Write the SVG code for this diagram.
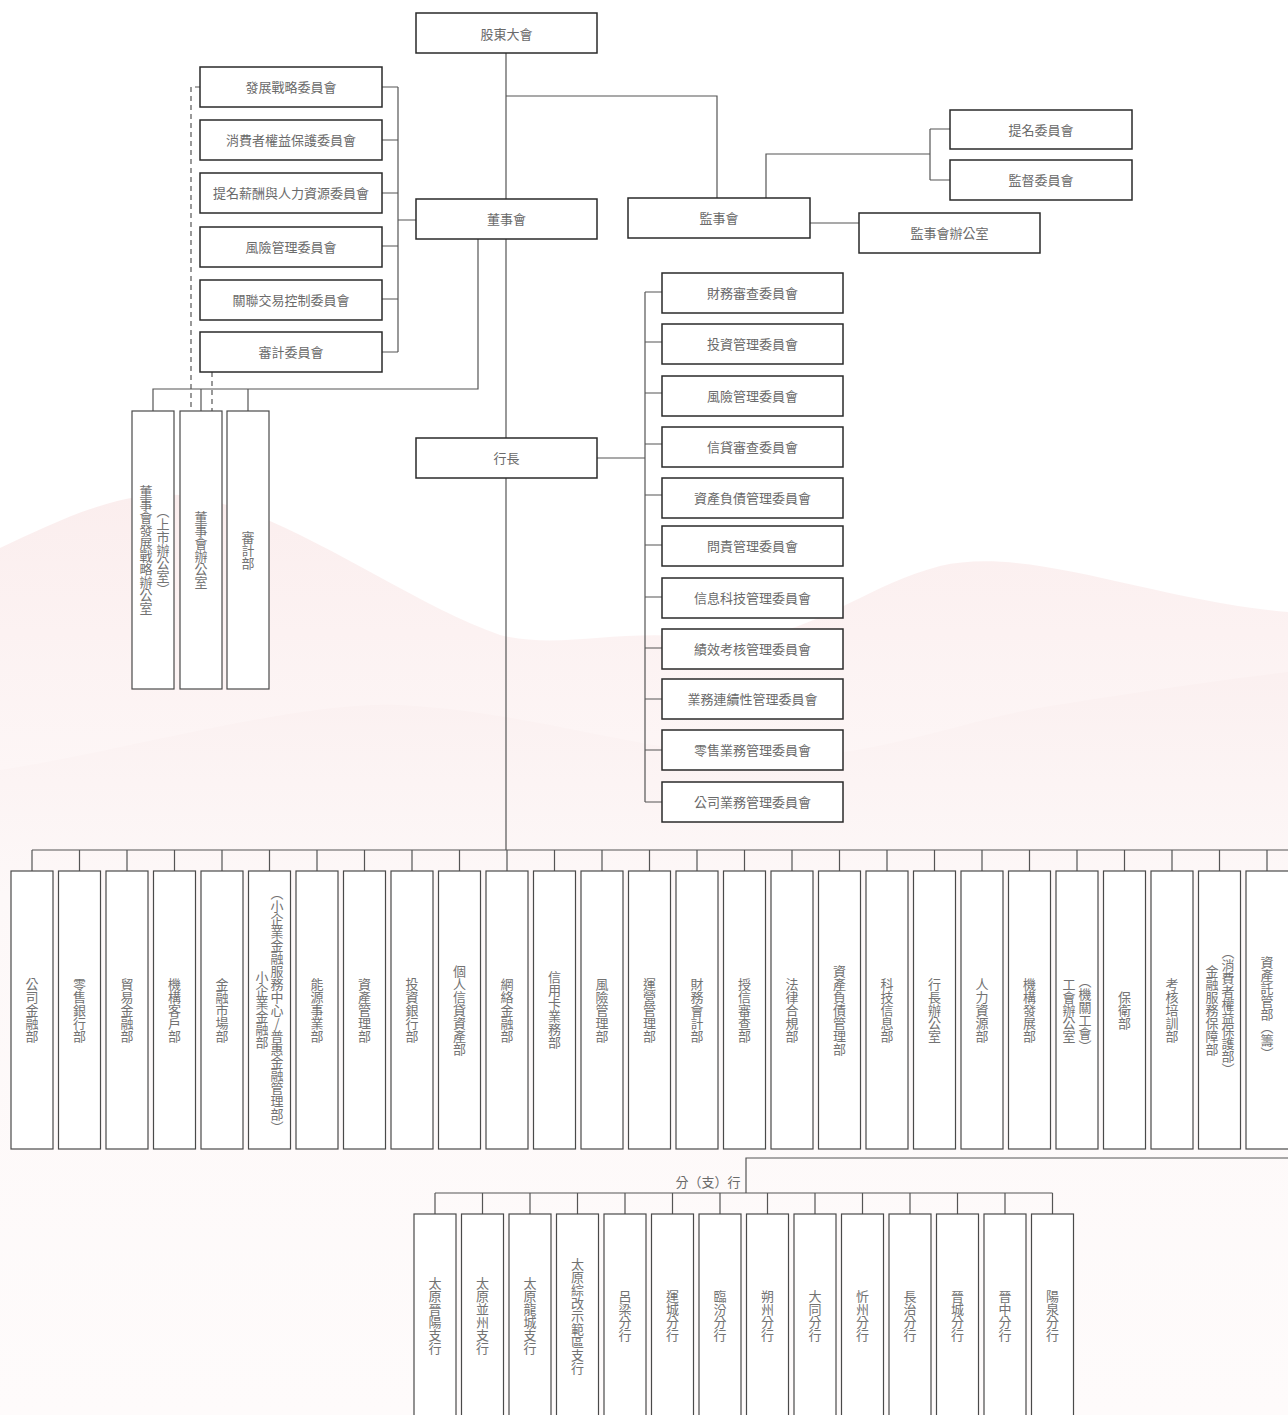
<svg xmlns="http://www.w3.org/2000/svg" width="1288" height="1415" viewBox="0 0 1288 1415">
<defs>
<linearGradient id="gA" x1="0" y1="0" x2="0" y2="1">
<stop offset="0" stop-color="#fbeeee"/>
<stop offset="0.3" stop-color="#fdf6f6"/>
<stop offset="1" stop-color="#fefcfc"/>
</linearGradient>
<linearGradient id="gB" x1="0" y1="0" x2="0" y2="1">
<stop offset="0" stop-color="#fbf0f0"/>
<stop offset="0.3" stop-color="#fdf8f8"/>
<stop offset="1" stop-color="#fefbfb"/>
</linearGradient>
<style>
.bx{fill:#fff;stroke:#2a2a2a;stroke-width:1.5}
.vb{fill:#fff;stroke:#4a4a4a;stroke-width:1.2}
.ln{fill:none;stroke:#555;stroke-width:1.2}
.dl{fill:none;stroke:#555;stroke-width:1.2;stroke-dasharray:5 4}
.t{font-family:"Noto Sans CJK TC","Noto Sans CJK SC",sans-serif;font-size:13px;fill:#6a6a6a;text-anchor:middle;dominant-baseline:central}
.v{font-family:"Noto Sans CJK TC","Noto Sans CJK SC",sans-serif;font-size:13px;fill:#727272;text-anchor:middle;writing-mode:vertical-rl;text-orientation:upright}
</style>
</defs>
<rect x="0" y="0" width="1288" height="1415" fill="#fff"/>
<g id="background">
<path d="M0,548 C60,520 120,490 180,495 C280,505 400,600 500,635 C560,650 620,628 700,638 C800,650 850,590 940,566 C1030,545 1150,600 1288,612 L1288,1415 L0,1415 Z" fill="url(#gA)"/>
<path d="M0,770 C120,752 300,700 400,705 C520,712 600,740 720,755 C850,770 950,722 1050,706 C1150,690 1220,680 1288,672 L1288,1415 L0,1415 Z" fill="url(#gB)"/>
</g>
<g id="connectors">
<path class="ln" d="M506,53 V199 M506,96 H717 V198"/>
<path class="ln" d="M766,198 V154 H930 M930,129 V180 M930,129 H950 M930,180 H950"/>
<path class="ln" d="M810,223 H859"/>
<path class="ln" d="M382,87 H398 M382,140 H398 M382,193 H398 M382,246 H398 M382,299 H398 M382,352 H398 M398,87 V352 M398,220 H416"/>
<path class="ln" d="M478,239 V389 H153 V411 M201,389 V411 M248,389 V411"/>
<path class="dl" d="M200,87 H191 V411"/>
<path class="dl" d="M212,372 V411"/>
<path class="ln" d="M506,239 V438 M506,478 V850"/>
<path class="ln" d="M597,458 H645 M645,292 V802 M645,292 H662 M645,342 H662 M645,393 H662 M645,444 H662 M645,495 H662 M645,545 H662 M645,597 H662 M645,648 H662 M645,699 H662 M645,750 H662 M645,802 H662"/>
<path class="ln" d="M32,850 H1288 M32,850 V871 M79.5,850 V871 M127,850 V871 M174.5,850 V871 M222,850 V871 M269.5,850 V871 M317,850 V871 M364.5,850 V871 M412,850 V871 M459.5,850 V871 M507,850 V871 M554.5,850 V871 M602,850 V871 M649.5,850 V871 M697,850 V871 M744.5,850 V871 M792,850 V871 M839.5,850 V871 M887,850 V871 M934.5,850 V871 M982,850 V871 M1029.5,850 V871 M1077,850 V871 M1124.5,850 V871 M1172,850 V871 M1219.5,850 V871 M1267,850 V871"/>
<path class="ln" d="M1288,1158 H746 V1193 M435,1193 H1052.5 M435,1193 V1214 M482.5,1193 V1214 M530,1193 V1214 M577.5,1193 V1214 M625,1193 V1214 M672.5,1193 V1214 M720,1193 V1214 M767.5,1193 V1214 M815,1193 V1214 M862.5,1193 V1214 M910,1193 V1214 M957.5,1193 V1214 M1005,1193 V1214 M1052.5,1193 V1214"/>
</g>
<g id="n-gudong"><rect class="bx" x="416" y="13" width="181" height="40"/><text class="t" x="506.5" y="33">股東大會</text></g>
<g id="n-dongshihui"><rect class="bx" x="416" y="199" width="181" height="40"/><text class="t" x="506.5" y="218.5">董事會</text></g>
<g id="n-jianshihui"><rect class="bx" x="628" y="198" width="182" height="40"/><text class="t" x="719" y="217.5">監事會</text></g>
<g id="n-timing2"><rect class="bx" x="950" y="110" width="182" height="39"/><text class="t" x="1041" y="129">提名委員會</text></g>
<g id="n-jiandu"><rect class="bx" x="950" y="160" width="182" height="40"/><text class="t" x="1041" y="179.5">監督委員會</text></g>
<g id="n-jsoffice"><rect class="bx" x="859" y="213" width="181" height="40"/><text class="t" x="949.5" y="232.5">監事會辦公室</text></g>
<g id="n-c1"><rect class="bx" x="200" y="67" width="182" height="40"/><text class="t" x="291" y="86.5">發展戰略委員會</text></g>
<g id="n-c2"><rect class="bx" x="200" y="120" width="182" height="40"/><text class="t" x="291" y="139.5">消費者權益保護委員會</text></g>
<g id="n-c3"><rect class="bx" x="200" y="173" width="182" height="40"/><text class="t" x="291" y="192.5">提名薪酬與人力資源委員會</text></g>
<g id="n-c4"><rect class="bx" x="200" y="227" width="182" height="40"/><text class="t" x="291" y="246.5">風險管理委員會</text></g>
<g id="n-c5"><rect class="bx" x="200" y="280" width="182" height="40"/><text class="t" x="291" y="299.5">關聯交易控制委員會</text></g>
<g id="n-c6"><rect class="bx" x="200" y="332" width="182" height="40"/><text class="t" x="291" y="351.5">審計委員會</text></g>
<g id="n-o1"><rect class="vb" x="132" y="411" width="42" height="278"/><text class="v" x="146" y="550">董事會發展戰略辦公室</text><text class="v" x="163" y="550">（上市辦公室）</text></g>
<g id="n-o2"><rect class="vb" x="180" y="411" width="42" height="278"/><text class="v" x="201" y="550">董事會辦公室</text></g>
<g id="n-o3"><rect class="vb" x="227" y="411" width="42" height="278"/><text class="v" x="248" y="550">審計部</text></g>
<g id="n-hangzhang"><rect class="bx" x="416" y="438" width="181" height="40"/><text class="t" x="506.5" y="457.5">行長</text></g>
<g id="n-r1"><rect class="bx" x="662" y="273" width="181" height="40"/><text class="t" x="752.5" y="292.5">財務審查委員會</text></g>
<g id="n-r2"><rect class="bx" x="662" y="324" width="181" height="40"/><text class="t" x="752.5" y="343.5">投資管理委員會</text></g>
<g id="n-r3"><rect class="bx" x="662" y="376" width="181" height="40"/><text class="t" x="752.5" y="395.5">風險管理委員會</text></g>
<g id="n-r4"><rect class="bx" x="662" y="427" width="181" height="40"/><text class="t" x="752.5" y="446.5">信貸審查委員會</text></g>
<g id="n-r5"><rect class="bx" x="662" y="478" width="181" height="40"/><text class="t" x="752.5" y="497.5">資產負債管理委員會</text></g>
<g id="n-r6"><rect class="bx" x="662" y="526" width="181" height="40"/><text class="t" x="752.5" y="545.5">問責管理委員會</text></g>
<g id="n-r7"><rect class="bx" x="662" y="578" width="181" height="40"/><text class="t" x="752.5" y="597.5">信息科技管理委員會</text></g>
<g id="n-r8"><rect class="bx" x="662" y="629" width="181" height="40"/><text class="t" x="752.5" y="648.5">績效考核管理委員會</text></g>
<g id="n-r9"><rect class="bx" x="662" y="679" width="181" height="40"/><text class="t" x="752.5" y="698.5">業務連續性管理委員會</text></g>
<g id="n-r10"><rect class="bx" x="662" y="730" width="181" height="40"/><text class="t" x="752.5" y="749.5">零售業務管理委員會</text></g>
<g id="n-r11"><rect class="bx" x="662" y="782" width="181" height="40"/><text class="t" x="752.5" y="801.5">公司業務管理委員會</text></g>
<g id="n-d1"><rect class="vb" x="11" y="871" width="42" height="278"/><text class="v" x="32" y="1010">公司金融部</text></g>
<g id="n-d2"><rect class="vb" x="58.5" y="871" width="42" height="278"/><text class="v" x="79.5" y="1010">零售銀行部</text></g>
<g id="n-d3"><rect class="vb" x="106" y="871" width="42" height="278"/><text class="v" x="127" y="1010">貿易金融部</text></g>
<g id="n-d4"><rect class="vb" x="153.5" y="871" width="42" height="278"/><text class="v" x="174.5" y="1010">機構客戶部</text></g>
<g id="n-d5"><rect class="vb" x="201" y="871" width="42" height="278"/><text class="v" x="222" y="1010">金融市場部</text></g>
<g id="n-d6"><rect class="vb" x="248.5" y="871" width="42" height="278"/><text class="v" x="262" y="1010">小企業金融部</text><text class="v" x="277" y="1010">（小企業金融服務中心/普惠金融管理部）</text></g>
<g id="n-d7"><rect class="vb" x="296" y="871" width="42" height="278"/><text class="v" x="317" y="1010">能源事業部</text></g>
<g id="n-d8"><rect class="vb" x="343.5" y="871" width="42" height="278"/><text class="v" x="364.5" y="1010">資產管理部</text></g>
<g id="n-d9"><rect class="vb" x="391" y="871" width="42" height="278"/><text class="v" x="412" y="1010">投資銀行部</text></g>
<g id="n-d10"><rect class="vb" x="438.5" y="871" width="42" height="278"/><text class="v" x="459.5" y="1010">個人信貸資產部</text></g>
<g id="n-d11"><rect class="vb" x="486" y="871" width="42" height="278"/><text class="v" x="507" y="1010">網絡金融部</text></g>
<g id="n-d12"><rect class="vb" x="533.5" y="871" width="42" height="278"/><text class="v" x="554.5" y="1010">信用卡業務部</text></g>
<g id="n-d13"><rect class="vb" x="581" y="871" width="42" height="278"/><text class="v" x="602" y="1010">風險管理部</text></g>
<g id="n-d14"><rect class="vb" x="628.5" y="871" width="42" height="278"/><text class="v" x="649.5" y="1010">運營管理部</text></g>
<g id="n-d15"><rect class="vb" x="676" y="871" width="42" height="278"/><text class="v" x="697" y="1010">財務會計部</text></g>
<g id="n-d16"><rect class="vb" x="723.5" y="871" width="42" height="278"/><text class="v" x="744.5" y="1010">授信審查部</text></g>
<g id="n-d17"><rect class="vb" x="771" y="871" width="42" height="278"/><text class="v" x="792" y="1010">法律合規部</text></g>
<g id="n-d18"><rect class="vb" x="818.5" y="871" width="42" height="278"/><text class="v" x="839.5" y="1010">資產負債管理部</text></g>
<g id="n-d19"><rect class="vb" x="866" y="871" width="42" height="278"/><text class="v" x="887" y="1010">科技信息部</text></g>
<g id="n-d20"><rect class="vb" x="913.5" y="871" width="42" height="278"/><text class="v" x="934.5" y="1010">行長辦公室</text></g>
<g id="n-d21"><rect class="vb" x="961" y="871" width="42" height="278"/><text class="v" x="982" y="1010">人力資源部</text></g>
<g id="n-d22"><rect class="vb" x="1008.5" y="871" width="42" height="278"/><text class="v" x="1029.5" y="1010">機構發展部</text></g>
<g id="n-d23"><rect class="vb" x="1056" y="871" width="42" height="278"/><text class="v" x="1069" y="1010">工會辦公室</text><text class="v" x="1085" y="1014">（機關工會）</text></g>
<g id="n-d24"><rect class="vb" x="1103.5" y="871" width="42" height="278"/><text class="v" x="1124.5" y="1010">保衛部</text></g>
<g id="n-d25"><rect class="vb" x="1151" y="871" width="42" height="278"/><text class="v" x="1172" y="1010">考核培訓部</text></g>
<g id="n-d26"><rect class="vb" x="1198.5" y="871" width="42" height="278"/><text class="v" x="1212" y="1010">金融服務保障部</text><text class="v" x="1228" y="1011">（消費者權益保護部）</text></g>
<g id="n-d27"><rect class="vb" x="1246" y="871" width="43" height="278"/><text class="v" x="1267" y="1008">資產託管部（籌）</text></g>
<g id="n-branch-label"><text class="t" x="708" y="1181.5">分（支）行</text></g>
<g id="n-b1"><rect class="vb" x="414" y="1214" width="42" height="210"/><text class="v" x="435" y="1316">太原晉陽支行</text></g>
<g id="n-b2"><rect class="vb" x="461.5" y="1214" width="42" height="210"/><text class="v" x="482.5" y="1316">太原並州支行</text></g>
<g id="n-b3"><rect class="vb" x="509" y="1214" width="42" height="210"/><text class="v" x="530" y="1316">太原龍城支行</text></g>
<g id="n-b4"><rect class="vb" x="556.5" y="1214" width="42" height="210"/><text class="v" x="577.5" y="1316">太原綜改示範區支行</text></g>
<g id="n-b5"><rect class="vb" x="604" y="1214" width="42" height="210"/><text class="v" x="625" y="1316">呂梁分行</text></g>
<g id="n-b6"><rect class="vb" x="651.5" y="1214" width="42" height="210"/><text class="v" x="672.5" y="1316">運城分行</text></g>
<g id="n-b7"><rect class="vb" x="699" y="1214" width="42" height="210"/><text class="v" x="720" y="1316">臨汾分行</text></g>
<g id="n-b8"><rect class="vb" x="746.5" y="1214" width="42" height="210"/><text class="v" x="767.5" y="1316">朔州分行</text></g>
<g id="n-b9"><rect class="vb" x="794" y="1214" width="42" height="210"/><text class="v" x="815" y="1316">大同分行</text></g>
<g id="n-b10"><rect class="vb" x="841.5" y="1214" width="42" height="210"/><text class="v" x="862.5" y="1316">忻州分行</text></g>
<g id="n-b11"><rect class="vb" x="889" y="1214" width="42" height="210"/><text class="v" x="910" y="1316">長治分行</text></g>
<g id="n-b12"><rect class="vb" x="936.5" y="1214" width="42" height="210"/><text class="v" x="957.5" y="1316">晉城分行</text></g>
<g id="n-b13"><rect class="vb" x="984" y="1214" width="42" height="210"/><text class="v" x="1005" y="1316">晉中分行</text></g>
<g id="n-b14"><rect class="vb" x="1031.5" y="1214" width="42" height="210"/><text class="v" x="1052.5" y="1316">陽泉分行</text></g>
</svg>
